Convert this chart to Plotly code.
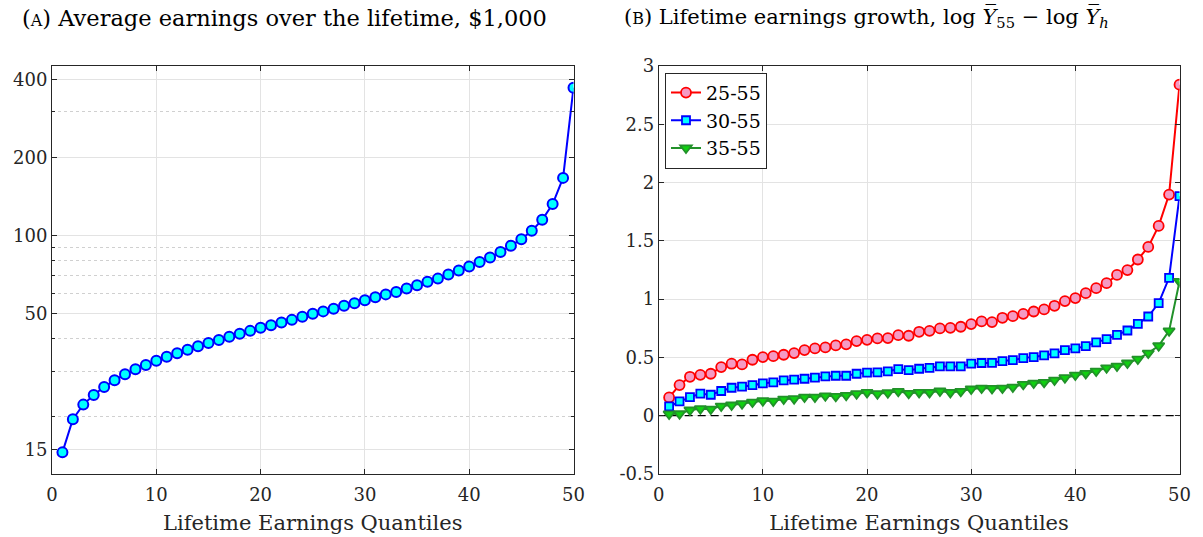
import plotly.graph_objects as go

# ---------------- data ----------------
quantiles = list(range(1, 51))

avg_earnings = [14.6, 19.6, 22.3, 24.3, 26.1, 27.7, 29.2, 30.5, 31.7, 32.9,
                34.1, 35.2, 36.3, 37.4, 38.5, 39.6, 40.7, 41.8, 42.9, 44.1,
                45.1, 46.2, 47.3, 48.6, 49.9, 51.0, 52.2, 53.6, 54.8, 56.3,
                57.8, 59.3, 60.6, 62.5, 64.3, 66.3, 68.2, 70.8, 73.3, 76.0,
                79.0, 82.3, 86.3, 91.3, 96.8, 104.3, 114.9, 132.1, 166.7, 371.0]

growth_25_55 = [0.157, 0.263, 0.334, 0.351, 0.360, 0.417, 0.446, 0.440, 0.480, 0.503,
                0.511, 0.523, 0.537, 0.563, 0.577, 0.586, 0.603, 0.612, 0.640, 0.651,
                0.663, 0.666, 0.691, 0.686, 0.720, 0.728, 0.749, 0.754, 0.763, 0.786,
                0.809, 0.803, 0.840, 0.854, 0.874, 0.894, 0.912, 0.943, 0.983, 1.009,
                1.051, 1.094, 1.137, 1.208, 1.249, 1.340, 1.448, 1.628, 1.897, 2.840]

growth_30_55 = [0.080, 0.123, 0.160, 0.189, 0.180, 0.212, 0.240, 0.249, 0.263, 0.277,
                0.286, 0.303, 0.309, 0.317, 0.326, 0.337, 0.343, 0.343, 0.360, 0.369,
                0.372, 0.380, 0.400, 0.391, 0.403, 0.411, 0.423, 0.423, 0.423, 0.446,
                0.452, 0.454, 0.469, 0.477, 0.494, 0.503, 0.517, 0.534, 0.563, 0.577,
                0.597, 0.629, 0.657, 0.694, 0.731, 0.788, 0.851, 0.966, 1.183, 1.883]

growth_35_55 = [0.015, 0.017, 0.049, 0.060, 0.057, 0.083, 0.092, 0.103, 0.117, 0.129,
                0.126, 0.143, 0.146, 0.160, 0.160, 0.171, 0.166, 0.175, 0.189, 0.200,
                0.189, 0.197, 0.209, 0.192, 0.200, 0.200, 0.212, 0.200, 0.209, 0.229,
                0.237, 0.234, 0.237, 0.246, 0.269, 0.280, 0.286, 0.306, 0.326, 0.349,
                0.363, 0.383, 0.411, 0.426, 0.452, 0.486, 0.537, 0.600, 0.728, 1.152]

x_ticks = [0, 10, 20, 30, 40, 50]
left_y_ticks = [15, 50, 100, 200, 400]
left_y_minor = [20, 30, 40, 60, 70, 80, 90, 300]
right_y_ticks = [-0.5, 0, 0.5, 1, 1.5, 2, 2.5, 3]
right_y_labels = ["-0.5", "0", "0.5", "1", "1.5", "2", "2.5", "3"]
zero_ref = [0, 0]

# ---------------- figure ----------------
FONT = "DejaVu Serif"
W, H = 1203, 537

fig = go.Figure()

fig.add_trace(go.Scatter(
    x=quantiles, y=avg_earnings, mode="lines+markers",
    line=dict(color="#0000ff", width=2),
    marker=dict(symbol="circle", size=10, color="#00ffff",
                line=dict(color="#0000ff", width=2)),
    showlegend=False, xaxis="x", yaxis="y"))

# dashed zero reference line (right panel), drawn beneath the series
fig.add_trace(go.Scatter(
    x=[x_ticks[0], x_ticks[-1]], y=zero_ref, mode="lines",
    line=dict(color="black", width=1.3, dash="8px,5px"),
    showlegend=False, hoverinfo="skip", xaxis="x2", yaxis="y2"))

series = [
    ("25-55", growth_25_55, "#ff0000", "#f59ac3", "circle", 10),
    ("30-55", growth_30_55, "#0000ff", "#00ffff", "square", 8),
    ("35-55", growth_35_55, "#22912a", "#10d010", "triangle-down", 10),
]
for name, vals, lc, fc, sym, sz in series:
    fig.add_trace(go.Scatter(
        x=quantiles, y=vals, mode="lines+markers", name=name,
        line=dict(color=lc, width=2),
        marker=dict(symbol=sym, size=sz, color=fc, line=dict(color=lc, width=1.8)),
        xaxis="x2", yaxis="y2"))


def px_x(p):
    return p / W


def px_y(p):
    return 1 - p / H


axis_common = dict(
    showline=True, linecolor="#262626", linewidth=1, mirror="ticks",
    ticks="inside", ticklen=5, tickcolor="#262626",
    showgrid=True, gridcolor="#e3e3e3", gridwidth=1,
    zeroline=False, automargin=False,
    tickfont=dict(family=FONT, size=18, color="#262626"),
)
xtitle = dict(text="Lifetime Earnings Quantiles",
              font=dict(family=FONT, size=21, color="#262626"), standoff=11)

fig.update_layout(
    width=W, height=H,
    margin=dict(l=0, r=0, t=0, b=0),
    paper_bgcolor="white", plot_bgcolor="white",
    font=dict(family=FONT, color="#262626"),
    xaxis=dict(domain=[px_x(52), px_x(573.5)], range=[0, 50],
               tickvals=x_ticks, anchor="y", title=xtitle,
               ticklabelstandoff=4, **axis_common),
    yaxis=dict(domain=[px_y(474), px_y(66)], type="log",
               range=[1.081, 2.653], tickvals=left_y_ticks,
               ticktext=[str(v) for v in left_y_ticks], anchor="x",
               minor=dict(tickvals=left_y_minor, ticks="inside", ticklen=3,
                          tickcolor="#262626", showgrid=True,
                          gridcolor="#d0d0d0", griddash="dot", gridwidth=1),
               **axis_common),
    xaxis2=dict(domain=[px_x(658.7), px_x(1179.5)], range=[0, 50],
                tickvals=x_ticks, anchor="y2", title=xtitle,
                ticklabelstandoff=4, **axis_common),
    yaxis2=dict(domain=[px_y(474), px_y(66)], range=[-0.5, 3],
                tickvals=right_y_ticks, ticktext=right_y_labels, anchor="x2",
                **axis_common),
    legend=dict(x=px_x(665), y=px_y(72.7), xanchor="left", yanchor="top",
                bgcolor="white", bordercolor="#262626", borderwidth=1,
                font=dict(family=FONT, size=19, color="#000000"),
                itemwidth=30, tracegroupgap=0),
    annotations=[
        dict(text="(<span style='font-size:16px'>A</span>) Average earnings over the lifetime, $1,000",
             xref="paper", yref="paper", x=px_x(20), y=px_y(18), xanchor="left",
             yanchor="middle", showarrow=False,
             font=dict(family=FONT, size=22.5, color="#000000")),
        dict(text="(<span style='font-size:16px'>B</span>) Lifetime earnings growth, log <i>Y\u0305</i><sub>55</sub> \u2212 log <i>Y\u0305</i><sub><i>h</i></sub>",
             xref="paper", yref="paper", x=px_x(622), y=px_y(18), xanchor="left",
             yanchor="middle", showarrow=False,
             font=dict(family=FONT, size=21, color="#000000")),
    ],
)

fig.write_html("out.html", config={"displayModeBar": False},
               post_script="document.body.style.margin='0';document.body.style.overflow='hidden';")
